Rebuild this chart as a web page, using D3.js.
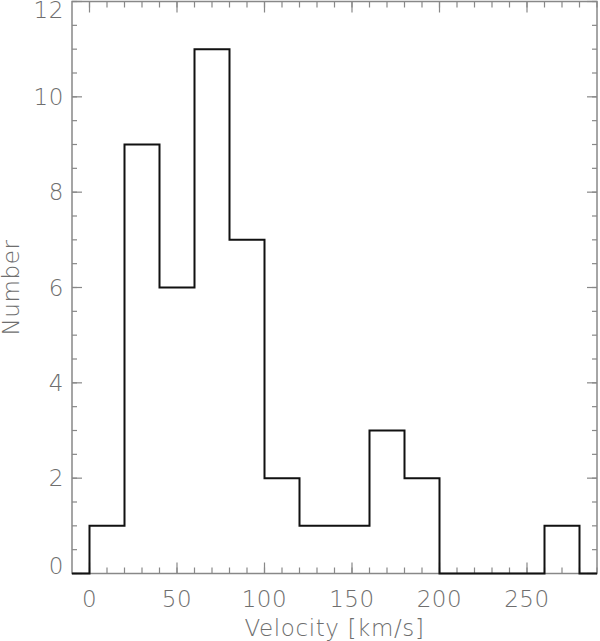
<!DOCTYPE html>
<html lang="en">
<head>
  <meta charset="UTF-8">
  <title>Velocity histogram</title>
  <script src="https://d3js.org/d3.v7.min.js"></script>
  <style>
    body { margin: 0; background: #fff; }
    text { font-family: "DejaVu Sans", "Liberation Sans", sans-serif; font-weight: 200; fill: #6e6e6e; letter-spacing: 0.6px; }
  </style>
</head>
<body>
<div id="my_dataviz"></div>
<script>
  // bin edges (km/s) and counts
  var binStarts = [0, 20, 40, 60, 80, 100, 120, 140, 160, 180, 200, 220, 240, 260];
  var counts = [1, 9, 6, 11, 7, 2, 1, 1, 3, 2, 0, 0, 0, 1];
  var binWidth = 20;
  var xTicks = [0, 50, 100, 150, 200, 250];
  var yTicks = [0, 2, 4, 6, 8, 10, 12];

  var margin = { top: 1.5, right: 3, bottom: 67.5, left: 72 },
    width = 600 - margin.left - margin.right,
    height = 641 - margin.top - margin.bottom;

  var svg = d3.select("#my_dataviz")
    .append("svg")
    .attr("width", 600)
    .attr("height", 641)
    .append("g")
    .attr("transform", "translate(" + margin.left + "," + margin.top + ")");

  var x = d3.scaleLinear().domain([-10, 290]).range([0, width]);
  var y = d3.scaleLinear().domain([0, 12]).range([height, 0]);

  var axisColor = "#888";

  // minor ticks
  var xMinor = d3.range(0, 291, 10);
  var yMinor = d3.range(0, 12.01, 0.5);

  function tickLines(sel, vals, isX, len, atStart) {
    sel.selectAll(null)
      .data(vals)
      .enter()
      .append("line")
      .attr("x1", function(d) { return isX ? x(d) : (atStart ? 0 : width); })
      .attr("x2", function(d) { return isX ? x(d) : (atStart ? len : width - len); })
      .attr("y1", function(d) { return isX ? (atStart ? height : 0) : y(d); })
      .attr("y2", function(d) { return isX ? (atStart ? height - len : len) : y(d); })
      .attr("stroke", axisColor)
      .attr("stroke-width", 1.2);
  }

  var ticks = svg.append("g");
  tickLines(ticks, xMinor, true, 6, true);
  tickLines(ticks, xMinor, true, 6, false);
  tickLines(ticks, xTicks, true, 11, true);
  tickLines(ticks, xTicks, true, 11, false);
  tickLines(ticks, yMinor, false, 5, true);
  tickLines(ticks, yMinor, false, 5, false);
  tickLines(ticks, yTicks, false, 10, true);
  tickLines(ticks, yTicks, false, 10, false);

  // frame
  svg.append("rect")
    .attr("x", 0)
    .attr("y", 0)
    .attr("width", width)
    .attr("height", height)
    .attr("fill", "none")
    .attr("stroke", axisColor)
    .attr("stroke-width", 1.5);

  // tick labels
  svg.append("g")
    .selectAll("text")
    .data(xTicks)
    .enter()
    .append("text")
    .attr("x", function(d) { return x(d); })
    .attr("y", height + 33)
    .attr("text-anchor", "middle")
    .style("font-size", "23px")
    .text(function(d) { return d; });

  // end labels are nudged inside the frame, like the original
  svg.append("g")
    .selectAll("text")
    .data(yTicks)
    .enter()
    .append("text")
    .attr("x", -8)
    .attr("y", function(d) {
      if (d === 12) return y(d) + 16.5;
      if (d === 0) return y(d);
      return y(d) + 8;
    })
    .attr("text-anchor", "end")
    .style("font-size", "23px")
    .text(function(d) { return d; });

  // axis titles
  svg.append("text")
    .attr("x", x(140))
    .attr("y", height + 62)
    .attr("text-anchor", "middle")
    .style("font-size", "23px")
    .text("Velocity [km/s]");

  svg.append("text")
    .attr("transform", "translate(" + (-53.5) + "," + y(6.0) + ") rotate(-90)")
    .attr("text-anchor", "middle")
    .style("font-size", "23px")
    .text("Number");

  // histogram step outline
  var pts = [[x.domain()[0], 0]];
  binStarts.forEach(function(b, i) {
    pts.push([b, i === 0 ? 0 : counts[i - 1]]);
    pts.push([b, counts[i]]);
  });
  var last = binStarts[binStarts.length - 1] + binWidth;
  pts.push([last, counts[counts.length - 1]]);
  pts.push([last, 0]);
  pts.push([x.domain()[1], 0]);

  var line = d3.line()
    .x(function(d) { return x(d[0]); })
    .y(function(d) { return y(d[1]); });

  svg.append("path")
    .datum(pts)
    .attr("d", line)
    .attr("fill", "none")
    .attr("stroke", "#111")
    .attr("stroke-width", 2);
</script>
</body>
</html>
